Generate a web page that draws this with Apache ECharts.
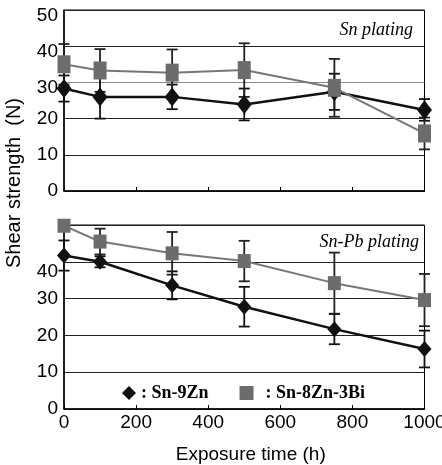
<!DOCTYPE html>
<html>
<head>
<meta charset="utf-8">
<script src="https://cdn.jsdelivr.net/npm/echarts@6/dist/echarts.min.js"></script>
<style>html,body{margin:0;padding:0;background:#fff;}#c{width:442px;height:465px;}</style>
</head>
<body>
<div id="c"></div>
<script>
// Exposure time (h)
const exposureTimes = [0, 100, 300, 500, 750, 1000];
const xTickLabels = [0, 200, 400, 600, 800, 1000];
const yTickLabels = [0, 10, 20, 30, 40, 50];

// Sn plating panel
const snPlatingSnZn = [28.3, 26.0, 26.0, 23.9, 27.4, 22.4];
const snPlatingSnZnErr = [3.6, 6.0, 3.4, 4.4, 5.0, 3.0];
const snPlatingSnZnBi = [35.0, 33.3, 32.7, 33.4, 28.5, 15.9];
const snPlatingSnZnBiErr = [5.6, 5.9, 6.4, 7.4, 8.0, 4.4];

// Sn-Pb plating panel
const snPbPlatingSnZn = [41.7, 40.0, 33.6, 27.8, 21.7, 16.3];
const snPbPlatingSnZnErr = [4.1, 1.5, 3.8, 5.4, 4.1, 5.0];
const snPbPlatingSnZnBi = [49.8, 45.5, 42.3, 40.2, 34.2, 29.6];
const snPbPlatingSnZnBiErr = [0, 3.5, 5.8, 5.5, 8.3, 7.1];

const seriesNames = ['Sn-9Zn', 'Sn-8Zn-3Bi'];
const panelLabels = ['Sn plating', 'Sn-Pb plating'];

const BLACK = '#111';
const GRAY = '#6c6c6c';
const SANS = '"Liberation Sans", Arial, sans-serif';
const SERIF = '"Liberation Serif", "Times New Roman", serif';

function pairs(vals) { return exposureTimes.map((x, i) => [x, vals[i]]); }
function errData(vals, errs) {
  const out = [];
  exposureTimes.forEach((x, i) => { if (errs[i] > 0) out.push([x, vals[i] - errs[i], vals[i] + errs[i]]); });
  return out;
}
function errSeries(vals, errs, gi, color) {
  return {
    type: 'custom', xAxisIndex: gi, yAxisIndex: gi, z: 2, silent: true,
    data: errData(vals, errs),
    encode: { x: 0, y: [1, 2] },
    renderItem: function (params, api) {
      const x = api.value(0);
      const lo = api.coord([x, api.value(1)]);
      const hi = api.coord([x, api.value(2)]);
      const w = 5.5;
      const st = { stroke: color, lineWidth: 1.8 };
      return { type: 'group', children: [
        { type: 'line', shape: { x1: lo[0], y1: lo[1], x2: hi[0], y2: hi[1] }, style: st },
        { type: 'line', shape: { x1: hi[0] - w, y1: hi[1], x2: hi[0] + w, y2: hi[1] }, style: st },
        { type: 'line', shape: { x1: lo[0] - w, y1: lo[1], x2: lo[0] + w, y2: lo[1] }, style: st }
      ] };
    }
  };
}

const chart = echarts.init(document.getElementById('c'), null, { renderer: 'canvas' });

const xAxisBase = {
  type: 'value', min: 0, max: 1000, interval: 200,
  axisLine: { lineStyle: { color: '#000', width: 1.5 } },
  axisTick: { show: true, inside: true, length: 4, lineStyle: { color: '#000', width: 1 } },
  splitLine: { show: false }
};
const yAxisBase = {
  type: 'value', min: 0, max: 50, interval: 10,
  axisLine: { show: true, lineStyle: { color: '#000', width: 1.5 } },
  axisTick: { show: false },
  axisLabel: { color: '#000', fontFamily: SANS, fontSize: 19, margin: 6 }
};

const option = {
  animation: false,
  backgroundColor: '#fff',
  grid: [
    { left: 64, right: 17.5, top: 10, height: 181, show: true, borderColor: '#000', borderWidth: 1, outerBoundsMode: 'none', containLabel: false },
    { left: 64, right: 17.5, top: 225, height: 184, show: true, borderColor: '#000', borderWidth: 1, outerBoundsMode: 'none', containLabel: false }
  ],
  xAxis: [
    Object.assign({}, xAxisBase, { gridIndex: 0, axisLabel: { show: false } }),
    Object.assign({}, xAxisBase, {
      gridIndex: 1,
      axisLabel: { color: '#000', fontFamily: SANS, fontSize: 19, margin: 4,
        formatter: v => xTickLabels.indexOf(v) >= 0 ? String(v) : '' },
      name: 'Exposure time (h)', nameLocation: 'middle', nameGap: 36,
      nameTextStyle: { color: '#000', fontFamily: SANS, fontSize: 19, padding: [0, 0, 0, 13] }
    })
  ],
  yAxis: [
    Object.assign({}, yAxisBase, {
      gridIndex: 0,
      splitLine: { show: true, lineStyle: { color: ['#222', '#222', '#222', '#8a8a8a', '#222', '#222'], width: 1 } },
      axisLabel: Object.assign({}, yAxisBase.axisLabel, {
        formatter: v => yTickLabels.indexOf(v) < 0 ? '' : (v >= 30 ? '{s|' + v + '}' : String(v)),
        rich: { s: { fontFamily: SANS, fontSize: 19, color: '#000', padding: [11, 0, 0, 0] } }
      })
    }),
    Object.assign({}, yAxisBase, {
      gridIndex: 1,
      splitLine: { show: true, lineStyle: { color: '#222', width: 1 } },
      axisLabel: Object.assign({}, yAxisBase.axisLabel, {
        formatter: v => v >= 50 ? '' : (v === 40 ? '{s|' + v + '}' : String(v)),
        rich: { s: { fontFamily: SANS, fontSize: 19, color: '#000', padding: [20, 0, 0, 0] } }
      })
    })
  ],
  legend: {
    left: 117, top: 379, itemWidth: 14, itemHeight: 14, itemGap: 31,
    formatter: ': {name}',
    textStyle: { color: '#000', fontFamily: SERIF, fontWeight: 'bold', fontSize: 18 },
    data: [
      { name: seriesNames[0], icon: 'diamond', itemStyle: { color: BLACK } },
      { name: seriesNames[1], icon: 'rect', itemStyle: { color: GRAY }, textStyle: { padding: [0, 0, 0, 7] } }
    ],
    selectedMode: false
  },
  graphic: [
    { type: 'text', x: 14, y: 183, rotation: Math.PI / 2,
      style: { text: 'Shear strength  (N)', fill: '#000', font: '20px ' + SANS, textAlign: 'center', textVerticalAlign: 'middle' } },
    { type: 'text', x: 413, y: 30,
      style: { text: panelLabels[0], fill: '#000', font: 'italic 18px ' + SERIF, textAlign: 'right', textVerticalAlign: 'middle' } },
    { type: 'text', x: 419, y: 242,
      style: { text: panelLabels[1], fill: '#000', font: 'italic 18px ' + SERIF, textAlign: 'right', textVerticalAlign: 'middle' } }
  ],
  series: [
    errSeries(snPlatingSnZn, snPlatingSnZnErr, 0, '#111'),
    errSeries(snPlatingSnZnBi, snPlatingSnZnBiErr, 0, '#222'),
    errSeries(snPbPlatingSnZn, snPbPlatingSnZnErr, 1, '#111'),
    errSeries(snPbPlatingSnZnBi, snPbPlatingSnZnBiErr, 1, '#222'),
    { name: seriesNames[0], type: 'line', xAxisIndex: 0, yAxisIndex: 0, z: 3, data: pairs(snPlatingSnZn),
      symbol: 'diamond', symbolSize: [15, 19], itemStyle: { color: BLACK }, lineStyle: { color: BLACK, width: 2.5 } },
    { name: seriesNames[1], type: 'line', xAxisIndex: 0, yAxisIndex: 0, z: 4, data: pairs(snPlatingSnZnBi),
      symbol: 'rect', symbolSize: [13, 18], itemStyle: { color: GRAY }, lineStyle: { color: '#777', width: 2 } },
    { name: seriesNames[0], type: 'line', xAxisIndex: 1, yAxisIndex: 1, z: 3, data: pairs(snPbPlatingSnZn),
      symbol: 'diamond', symbolSize: [14, 16], itemStyle: { color: BLACK }, lineStyle: { color: BLACK, width: 2.5 } },
    { name: seriesNames[1], type: 'line', xAxisIndex: 1, yAxisIndex: 1, z: 4, data: pairs(snPbPlatingSnZnBi),
      symbol: 'rect', symbolSize: [13, 14], itemStyle: { color: GRAY }, lineStyle: { color: '#777', width: 2 } }
  ]
};
chart.setOption(option);
</script>
</body>
</html>
